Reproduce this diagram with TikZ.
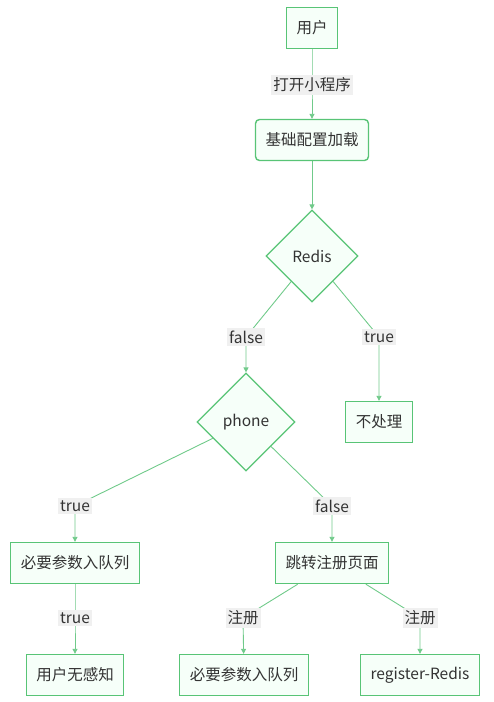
\documentclass[tikz,border=0pt]{standalone}
\usepackage{fontspec}
\usepackage{tikz}
\usetikzlibrary{arrows.meta,shapes.geometric,backgrounds}
\newfontfamily\cjk{Noto Sans CJK SC}
\definecolor{flowgreen}{RGB}{88,196,118}
\definecolor{edgegreen}{RGB}{112,202,138}
\definecolor{flowfill}{RGB}{246,255,249}
\definecolor{lblgray}{RGB}{240,240,240}
\definecolor{txtgray}{RGB}{51,51,51}

\begin{document}
\begin{tikzpicture}[
  x=1pt, y=-1pt,
  font=\cjk\fontsize{15.5}{18}\selectfont, text=txtgray,
  box/.style={rectangle, draw=flowgreen, line width=1.4pt, fill=flowfill, minimum height=41pt, inner xsep=10pt},
  rbox/.style={box, rounded corners=4pt},
  cond/.style={diamond, draw=flowgreen, line width=1.2pt, fill=flowfill, inner sep=0pt, aspect=1},
  lbl/.style={fill=lblgray, inner xsep=2pt, inner ysep=2.5pt},
  arrow/.style={draw=edgegreen, line width=0.9pt, -{Triangle[length=5pt,width=5pt]}}
]
  \useasboundingbox (0,0) rectangle (494,702);

  % Nodes
  \node[box] (user) at (312,28) {用户};
  \node[rbox] (config) at (312,140) {基础配置加载};
  \node[cond, minimum size=92pt] (redis) at (312,256) {Redis};
  \node[box] (skip) at (379,422) {不处理};
  \node[cond, minimum size=98pt] (phone) at (246,422) {phone};
  \node[box] (queueA) at (75,563) {必要参数入队列};
  \node[box] (register) at (332,563) {跳转注册页面};
  \node[box] (silent) at (75,675) {用户无感知};
  \node[box] (queueB) at (244,675) {必要参数入队列};
  \node[box] (regRedis) at (420,675) {register-Redis};

  % Labels
  \node[lbl] (lOpen) at (312,85) {打开小程序};
  \node[lbl] (lFalse) at (246,337) {false};
  \node[lbl] (lTrue) at (379,337) {true};
  \node[lbl] (lPhoneT) at (75,506) {true};
  \node[lbl] (lPhoneF) at (332,506) {false};
  \node[lbl] (lQueue) at (75,618) {true};
  \node[lbl] (lRegA) at (243,618) {注册};
  \node[lbl] (lRegB) at (420,618) {注册};

  % Edges
  \begin{scope}[on background layer]
    \draw[arrow] (user) -- (lOpen.center) -- (config);
    \draw[arrow] (config) -- (redis);
    \draw[arrow] (redis) -- (lFalse.center) -- (phone);
    \draw[arrow] (redis) -- (lTrue.center) -- (skip);
    \draw[arrow] (phone) -- (lPhoneT.center) -- (queueA);
    \draw[arrow] (phone) -- (lPhoneF.center) -- (register);
    \draw[arrow] (queueA) -- (lQueue.center) -- (silent);
    \draw[arrow] (register) -- (lRegA.center) -- (queueB);
    \draw[arrow] (register) -- (lRegB.center) -- (regRedis);
  \end{scope}
\end{tikzpicture}
\end{document}
